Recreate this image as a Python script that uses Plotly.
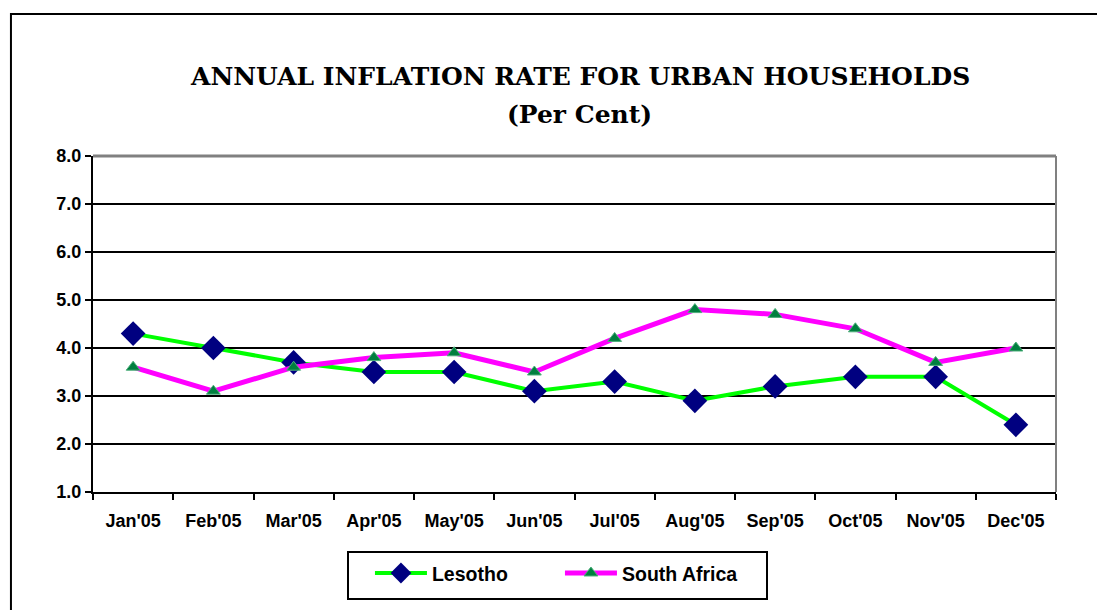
import plotly.graph_objects as go

months = ["Jan'05", "Feb'05", "Mar'05", "Apr'05", "May'05", "Jun'05",
          "Jul'05", "Aug'05", "Sep'05", "Oct'05", "Nov'05", "Dec'05"]
lesotho = [4.3, 4.0, 3.7, 3.5, 3.5, 3.1, 3.3, 2.9, 3.2, 3.4, 3.4, 2.4]
south_africa = [3.6, 3.1, 3.6, 3.8, 3.9, 3.5, 4.2, 4.8, 4.7, 4.4, 3.7, 4.0]
y_ticks = [1, 2, 3, 4, 5, 6, 7, 8]
title_line1 = "ANNUAL INFLATION RATE FOR URBAN HOUSEHOLDS"
title_line2 = "(Per Cent)"

fig = go.Figure()
fig.add_trace(go.Scatter(
    x=months, y=lesotho, name="Lesotho", mode="lines+markers",
    line=dict(color="#00FF00", width=4),
    marker=dict(symbol="diamond", size=19, color="#000080",
                line=dict(color="#000080", width=0)),
))
fig.add_trace(go.Scatter(
    x=months, y=south_africa, name="South Africa", mode="lines+markers",
    line=dict(color="#FF00FF", width=5),
    marker=dict(symbol="triangle-up", size=12, color="#007F3F",
                line=dict(color="#4CAF7A", width=1)),
))

title_font = dict(family="DejaVu Serif", size=25, color="black", weight="bold")
fig.add_annotation(text=title_line1, xref="paper", yref="paper", x=0.5057, y=1.238,
                   xanchor="center", yanchor="middle", showarrow=False, font=title_font)
fig.add_annotation(text=title_line2, xref="paper", yref="paper", x=0.5057, y=1.125,
                   xanchor="center", yanchor="middle", showarrow=False, font=title_font)

fig.update_layout(
    width=1097, height=602,
    margin=dict(l=85, r=49, t=148, b=118),
    paper_bgcolor="white", plot_bgcolor="white",
    font=dict(family="Liberation Sans", color="black"),
    xaxis=dict(
        type="category", range=[-0.5, 11.5], tickson="boundaries",
        ticks="outside", ticklen=6,
        tickcolor="black", tickwidth=2, showline=True, linecolor="black",
        linewidth=2, showgrid=False, zeroline=False,
        tickfont=dict(family="Liberation Sans", size=18, color="black", weight="bold"),
        ticklabelstandoff=11,
    ),
    yaxis=dict(
        range=[1, 8], tickvals=y_ticks, tickformat=".1f", ticks="outside",
        ticklen=6, tickcolor="black", tickwidth=2, showline=True,
        linecolor="black", linewidth=2, showgrid=True, gridcolor="black",
        gridwidth=1.5, zeroline=False,
        tickfont=dict(family="Liberation Sans", size=18, color="black", weight="bold"),
    ),
    legend=dict(
        orientation="h", x=0.2876, xanchor="left", y=-0.184, yanchor="top",
        borderwidth=0, bgcolor="rgba(0,0,0,0)",
        font=dict(family="Liberation Sans", size=19.5, color="black", weight="bold"),
        entrywidth=123, itemwidth=52,
    ),
    showlegend=True,
)

# grey top and right plot-area border
fig.add_shape(type="line", xref="paper", yref="paper", x0=0, x1=1, y0=1, y1=1,
              line=dict(color="#808080", width=3), layer="above")
fig.add_shape(type="line", xref="paper", yref="paper", x0=1, x1=1, y0=0, y1=1,
              line=dict(color="#808080", width=2), layer="above")
# legend frame
fig.add_shape(type="rect", xref="paper", yref="paper",
              x0=0.2648, x1=0.6999, y0=-0.3185, y1=-0.1786,
              line=dict(color="black", width=2), layer="below")
# outer chart border (extends beyond the visible page at right and bottom)
fig.add_shape(type="rect", xref="paper", yref="paper",
              x0=-0.0852, x1=1.1, y0=-0.5, y1=1.4226,
              line=dict(color="black", width=2), layer="below")

fig.write_html("out.html")
